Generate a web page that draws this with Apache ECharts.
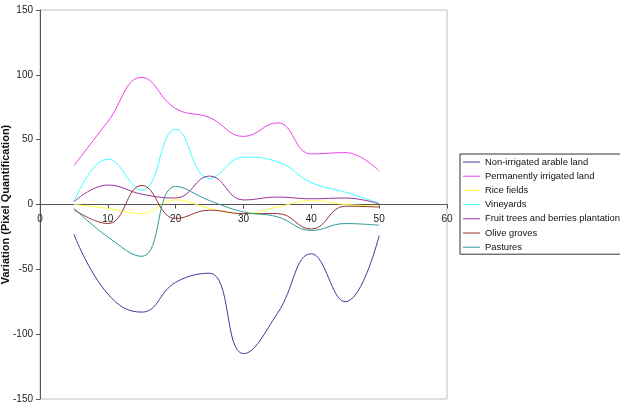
<!DOCTYPE html>
<html>
<head>
<meta charset="utf-8">
<script src="https://cdn.jsdelivr.net/npm/echarts@6/dist/echarts.min.js"></script>
<style>
  html, body { margin: 0; padding: 0; background: #fff; }
  #container { width: 620px; height: 409px; }
</style>
</head>
<body>
<div id="container"></div>
<script>
var xValues = [5, 10, 15, 20, 25, 30, 35, 40, 45, 50];

var seriesNames = [
  'Non-irrigated arable land',
  'Permanently irrigated land',
  'Rice fields',
  'Vineyards',
  'Fruit trees and berries plantation',
  'Olive groves',
  'Pastures'
];

var nonIrrigated = [-23, -69, -83, -60, -53, -115, -84, -38, -75, -24];
var permIrrigated = [30, 64, 98, 74, 67, 52.5, 63, 39, 40, 25.7];
var riceFields = [0, -3, -7, 3.6, -3, -7, -2, 3, 0, -1];
var vineyards = [2, 35, 11, 58, 20, 36.5, 33, 17, 9.5, 1];
var fruitTrees = [2, 15, 8, 5, 22, 3.5, 5.7, 4.4, 5, 0.5];
var oliveGroves = [-4, -14.7, 14.7, -10.8, -4.4, -7, -7, -19, -1.3, -2];
var pastures = [-3, -25, -40, 14, 3, -5.7, -9.5, -20, -14.7, -16];

var yTicks = [-150, -100, -50, 0, 50, 100, 150];
var xTicks = [0, 10, 20, 30, 40, 50, 60];

var colors = ['#3b3b9e', '#f040f0', '#ffff40', '#40ffff', '#993399', '#993333', '#339999'];

var dom = document.getElementById('container');
var myChart = echarts.init(dom, null, { renderer: 'canvas' });

var allData = [nonIrrigated, permIrrigated, riceFields, vineyards, fruitTrees, oliveGroves, pastures];

function pairs(ys) {
  return xValues.map(function (x, i) { return [x, ys[i]]; });
}

var series = seriesNames.map(function (name, i) {
  return {
    name: name,
    type: 'line',
    data: pairs(allData[i]),
    smooth: 0.45,
    symbol: 'none',
    lineStyle: { width: 1, color: colors[i] },
    itemStyle: { color: colors[i] }
  };
});

// grid height is 389, so the zero line sits 194.5px above the bottom edge
var option = {
  animation: false,
  grid: {
    left: 40,
    right: 173,
    top: 10,
    bottom: 10,
    containLabel: false,
    outerBoundsMode: 'none',
    show: true,
    borderColor: '#c0c0c0',
    borderWidth: 1,
    backgroundColor: '#fff'
  },
  legend: {
    orient: 'vertical',
    left: 460,
    top: 154,
    padding: [3, 40, 2, 3],
    borderColor: '#333',
    borderWidth: 1,
    icon: 'rect',
    itemWidth: 17,
    itemHeight: 1,
    itemGap: 4.2,
    data: seriesNames,
    textStyle: { fontFamily: 'Liberation Sans', fontSize: 9.4, color: '#111', lineHeight: 10 }
  },
  xAxis: {
    type: 'value',
    min: xTicks[0],
    max: xTicks[xTicks.length - 1],
    interval: 10,
    offset: -194.5,
    axisLine: { onZero: false, lineStyle: { color: '#555', width: 1 } },
    axisTick: { show: true, length: 4, lineStyle: { color: '#555' } },
    axisLabel: { margin: 10, fontFamily: 'Liberation Sans', fontSize: 10, color: '#222' },
    splitLine: { show: false }
  },
  yAxis: {
    type: 'value',
    min: yTicks[0],
    max: yTicks[yTicks.length - 1],
    interval: 50,
    name: 'Variation (Pixel Quantification)',
    nameLocation: 'middle',
    nameGap: 29,
    nameMoveOverlap: false,
    nameTextStyle: { fontFamily: 'Liberation Sans', fontSize: 11, fontWeight: 'bold', color: '#111' },
    axisLine: { show: true, lineStyle: { color: '#555', width: 1 } },
    axisTick: { show: true, length: 4, lineStyle: { color: '#555' } },
    axisLabel: { margin: 7, fontFamily: 'Liberation Sans', fontSize: 10, color: '#222' },
    splitLine: { show: false }
  },
  series: series
};

myChart.setOption(option);
window.addEventListener('resize', myChart.resize);
</script>
</body>
</html>
